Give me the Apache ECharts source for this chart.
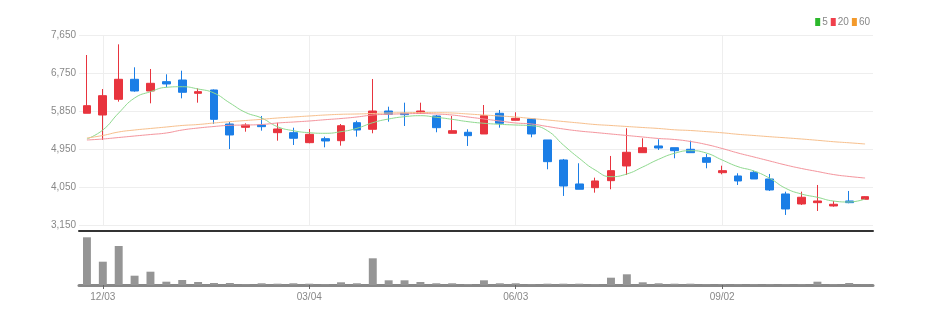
<!DOCTYPE html>
<html>
<head>
<meta charset="utf-8">
<script src="https://cdn.jsdelivr.net/npm/echarts@6/dist/echarts.min.js"></script>
<style>
html,body{margin:0;padding:0;background:#fff;}
#c{width:932px;height:321px;}
</style>
</head>
<body>
<div id="c"></div>
<script>
// weekly dates (Mondays)
const dates = ['11/26','12/03','12/10','12/17','12/24','12/31','01/07','01/14','01/21','01/28','02/04','02/11','02/18','02/25','03/04','03/11','03/18','03/25','04/01','04/08','04/15','04/22','04/29','05/06','05/13','05/20','05/27','06/03','06/10','06/17','06/24','07/01','07/08','07/15','07/22','07/29','08/05','08/12','08/19','08/26','09/02','09/09','09/16','09/23','09/30','10/07','10/14','10/21','10/28','11/04'];
const openV  = [5796,5755,6127,6601,6324,6545,6584,6269,6348,5542,5464,5519,5337,5337,5100,5194,5147,5573,5417,5850,5796,5796,5732,5322,5346,5306,5796,5630,5661,5164,4690,4122,4034,4200,4548,4863,5022,4981,4943,4745,4389,4311,4399,4240,3885,3648,3679,3601,3719,3759];
const closeV = [5976,6213,6601,6324,6506,6490,6293,6308,5653,5282,5519,5479,5424,5204,5298,5140,5502,5400,5850,5772,5763,5850,5455,5384,5266,5739,5559,5677,5306,4650,4074,3996,4193,4437,4872,4981,4974,4910,4863,4635,4437,4193,4240,3980,3530,3807,3719,3641,3679,3821];
const lowV   = [5796,5164,6071,6307,6032,6411,6150,6047,5542,4950,5360,5384,5147,5045,5085,4990,5029,5242,5322,5597,5495,5796,5346,5322,5022,5306,5455,5630,5227,4470,3838,3996,3916,3996,4335,4863,4927,4730,4863,4493,4351,4098,4240,3956,3388,3624,3482,3584,3665,3759];
const highV  = [7176,6371,7429,6885,6845,6719,6805,6387,6360,5590,5559,5732,5573,5455,5424,5242,5542,5621,6608,5952,6047,6047,5756,5732,5417,5992,5874,5819,5661,5164,4714,4612,4271,4785,5441,5204,5180,4981,5147,4832,4555,4375,4437,4359,3939,3939,4098,3719,3956,3830];
const volume = [47700,23300,39000,9300,13300,3300,5000,3000,2000,2000,700,1700,1300,1700,1300,700,2700,1700,26700,4700,4700,3000,1700,1700,1000,4700,1700,1700,700,1300,1300,1300,700,7300,10700,2700,1700,1300,1300,700,700,700,700,700,700,700,3300,700,2000,300];
const ma5  = [5187,5400,5803,6158,6307,6411,6425,6371,6276,6040,5814,5684,5478,5383,5336,5322,5360,5440,5573,5661,5715,5739,5701,5653,5597,5559,5535,5518,5502,5383,5045,4730,4453,4294,4358,4524,4706,4848,4910,4855,4690,4531,4429,4256,4019,3884,3806,3718,3695,3766];
const ma20 = [5163,5187,5222,5258,5293,5329,5400,5447,5483,5511,5518,5530,5566,5589,5613,5644,5672,5708,5755,5772,5784,5791,5779,5755,5708,5661,5613,5566,5542,5483,5424,5376,5341,5305,5270,5234,5199,5175,5128,5057,4962,4855,4761,4666,4571,4488,4417,4346,4299,4263];
const ma60 = [5211,5270,5353,5400,5436,5471,5507,5530,5566,5597,5625,5653,5684,5708,5732,5755,5772,5779,5791,5803,5810,5815,5810,5803,5779,5755,5732,5708,5672,5637,5601,5566,5530,5507,5483,5459,5436,5405,5388,5362,5334,5298,5270,5241,5215,5187,5156,5123,5097,5069];
const yTicks = {min:3150, max:7650, interval:900};
const labelIdx = [1,14,27,40];

const candle = dates.map((d,i)=>[openV[i],closeV[i],lowV[i],highV[i]]);
const FONT = "'Liberation Sans Narrow','Liberation Sans','DejaVu Sans Condensed',sans-serif";
const UP = '#e8343e', DOWN = '#1b7ee6';

const chart = echarts.init(document.getElementById('c'), null, {renderer:'canvas'});
chart.setOption({
  animation:false,
  backgroundColor:'#fff',
  textStyle:{fontFamily:FONT},
  legend:{
    right:57, top:12, itemWidth:5, itemHeight:8, itemGap:3, icon:'rect',
    textStyle:{fontSize:10, color:'#888', fontFamily:FONT, padding:[0,0,0,-3]},
    data:[{name:'5',itemStyle:{color:'#2cb82c'}},{name:'20',itemStyle:{color:'#f0404c'}},{name:'60',itemStyle:{color:'#f39a2c'}}]
  },
  grid:[
    {left:79, right:59, top:35, height:190},
    {left:79, right:59, top:231, height:54}
  ],
  xAxis:[
    {type:'category', gridIndex:0, data:dates, boundaryGap:true,
     offset:6,
     axisLine:{show:true, lineStyle:{color:'#333', width:2}},
     axisTick:{show:false, alignWithLabel:true}, axisLabel:{show:false},
     splitLine:{show:true, alignWithLabel:true, interval:(i)=>labelIdx.includes(i), lineStyle:{color:'#eee'}}},
    {type:'category', gridIndex:1, data:dates, boundaryGap:true,
     axisLine:{show:true, lineStyle:{color:'#888', width:3}},
     axisTick:{show:true, alignWithLabel:true, interval:(i)=>labelIdx.includes(i), length:4, lineStyle:{color:'#666'}},
     axisLabel:{show:true, interval:(i)=>labelIdx.includes(i), color:'#888', fontSize:10, margin:7, fontFamily:FONT},
     splitLine:{show:false}}
  ],
  yAxis:[
    {type:'value', gridIndex:0, min:yTicks.min, max:yTicks.max, interval:yTicks.interval,
     axisLine:{show:false}, axisTick:{show:false},
     axisLabel:{color:'#888', fontSize:10, margin:3, fontFamily:FONT, formatter:(v)=>v.toLocaleString('en-US')},
     splitLine:{lineStyle:{color:'#eee'}}},
    {type:'value', gridIndex:1, min:0, max:54000,
     axisLine:{show:false}, axisTick:{show:false}, axisLabel:{show:false}, splitLine:{show:false}}
  ],
  series:[
    {type:'candlestick', name:'price', xAxisIndex:0, yAxisIndex:0, data:candle, barWidth:'52%',
     itemStyle:{color:UP, color0:DOWN, borderColor:UP, borderColor0:DOWN, borderWidth:1}},
    {type:'line', name:'5', xAxisIndex:0, yAxisIndex:0, data:ma5, smooth:true, showSymbol:false,
     lineStyle:{width:1, color:'#8ed98e'}, itemStyle:{color:'#8ed98e'}},
    {type:'line', name:'20', xAxisIndex:0, yAxisIndex:0, data:ma20, smooth:true, showSymbol:false,
     lineStyle:{width:1, color:'#f4949c'}, itemStyle:{color:'#f4949c'}},
    {type:'line', name:'60', xAxisIndex:0, yAxisIndex:0, data:ma60, smooth:true, showSymbol:false,
     lineStyle:{width:1, color:'#f7bf8c'}, itemStyle:{color:'#f7bf8c'}},
    {type:'bar', name:'vol', xAxisIndex:1, yAxisIndex:1, data:volume, barWidth:'50%',
     itemStyle:{color:'#959595'}}
  ]
});
</script>
</body>
</html>
